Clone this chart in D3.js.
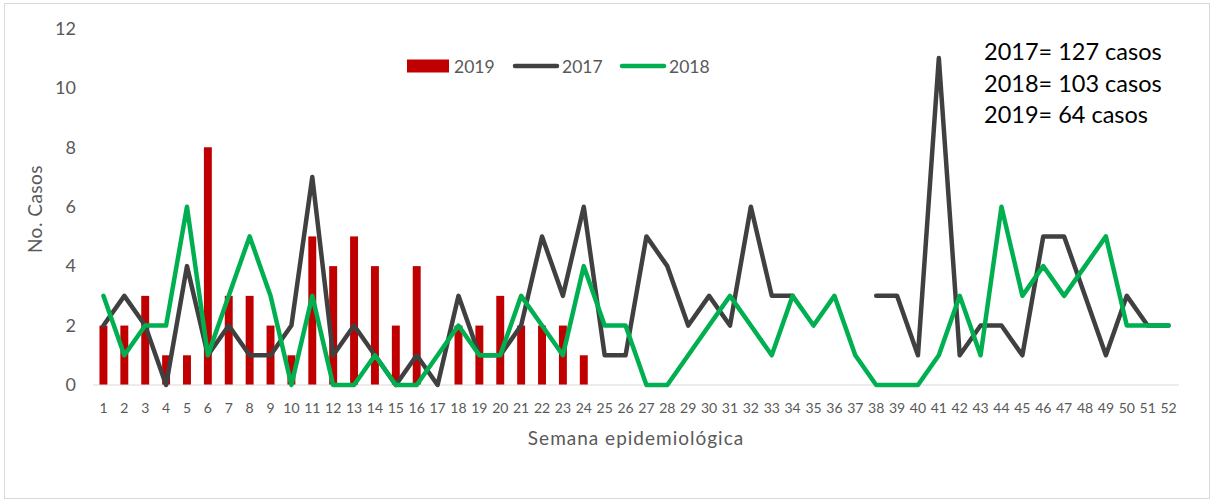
<!DOCTYPE html>
<html>
<head>
<meta charset="utf-8">
<script src="https://cdn.jsdelivr.net/npm/d3@7"></script>
<style>
  body { margin: 0; background: #fff; }
  text { font-family: Lato, "Open Sans", sans-serif; fill: #595959; }
</style>
</head>
<body>
<div id="viz"></div>
<script>
const weeks = d3.range(1, 53).map(String);

const cases2019 = [2, 2, 3, 1, 1, 8, 3, 3, 2, 1, 5, 4, 5, 4, 2, 4, 0, 2, 2, 3, 2, 2, 2, 1];

const cases2017 = [2, 3, 2, 0, 4, 1, 2, 1, 1, 2, 7, 1, 2, 1, 0, 1, 0, 3, 1, 1,
  2, 5, 3, 6, 1, 1, 5, 4, 2, 3, 2, 6, 3, 3, null, null, null, 3, 3, 1,
  11, 1, 2, 2, 1, 5, 5, 3, 1, 3, 2, 2];

const cases2018 = [3, 1, 2, 2, 6, 1, 3, 5, 3, 0, 3, 0, 0, 1, 0, 0, 1, 2, 1, 1,
  3, 2, 1, 4, 2, 2, 0, 0, 1, 2, 3, 2, 1, 3, 2, 3, 1, 0, 0, 0,
  1, 3, 1, 6, 3, 4, 3, 4, 5, 2, 2, 2];

const yTicks = [0, 2, 4, 6, 8, 10, 12];

const totals = ["2017= 127 casos", "2018= 103 casos", "2019= 64 casos"];

const legendItems = [
  { label: "2019", type: "bar", color: "#c00000" },
  { label: "2017", type: "line", color: "#404040" },
  { label: "2018", type: "line", color: "#00b050" }
];

const width = 1217, height = 503;

const svg = d3.select('#viz')
  .append('svg')
  .attr('width', width)
  .attr('height', height);

// chart border
svg.append('rect')
  .attr('x', 4.5)
  .attr('y', 3.5)
  .attr('width', 1205)
  .attr('height', 495)
  .attr('fill', 'none')
  .attr('stroke', '#d9d9d9');

const xScale = d3.scaleBand()
  .domain(weeks)
  .range([93, 1179]);

const xMid = w => xScale(w) + xScale.bandwidth() / 2;

const yScale = d3.scaleLinear()
  .domain([0, 12])
  .range([385, 28.4]);

// y tick labels
svg.selectAll('text.ytick')
  .data(yTicks)
  .enter()
  .append('text')
  .classed('ytick', true)
  .attr('x', 76)
  .attr('y', d => yScale(d))
  .attr('dy', '0.35em')
  .attr('text-anchor', 'end')
  .style('font-size', '18px')
  .text(d => d);

// bars 2019
const barW = xScale.bandwidth() * 0.38;
svg.selectAll('rect.bar')
  .data(cases2019)
  .enter()
  .append('rect')
  .classed('bar', true)
  .attr('x', (d, i) => xMid(weeks[i]) - barW / 2)
  .attr('y', d => yScale(d))
  .attr('width', barW)
  .attr('height', d => yScale(0) - yScale(d))
  .attr('fill', '#c00000');

// baseline
svg.append('line')
  .attr('x1', 93)
  .attr('x2', 1179)
  .attr('y1', yScale(0))
  .attr('y2', yScale(0))
  .attr('stroke', '#d9d9d9')
  .attr('stroke-width', 1.2);

// x tick labels
svg.selectAll('text.xtick')
  .data(weeks)
  .enter()
  .append('text')
  .classed('xtick', true)
  .attr('x', xMid)
  .attr('y', 413)
  .attr('text-anchor', 'middle')
  .style('font-size', '14px')
  .text(d => d);

const line = d3.line()
  .defined(d => d != null)
  .x((d, i) => xMid(weeks[i]))
  .y(d => yScale(d));

svg.append('path')
  .datum(cases2017)
  .attr('d', line)
  .attr('fill', 'none')
  .attr('stroke', '#404040')
  .attr('stroke-width', 4.5)
  .attr('stroke-linejoin', 'round')
  .attr('stroke-linecap', 'round');

svg.append('path')
  .datum(cases2018)
  .attr('d', line)
  .attr('fill', 'none')
  .attr('stroke', '#00b050')
  .attr('stroke-width', 4.5)
  .attr('stroke-linejoin', 'round')
  .attr('stroke-linecap', 'round');

// axis titles
svg.append('text')
  .attr('x', 636)
  .attr('y', 445)
  .attr('text-anchor', 'middle')
  .style('font-size', '19px')
  .style('letter-spacing', '1px')
  .text('Semana epidemiológica');

svg.append('text')
  .attr('transform', 'translate(42,209) rotate(-90)')
  .attr('text-anchor', 'middle')
  .style('font-size', '19px')
  .style('letter-spacing', '0.5px')
  .text('No. Casos');

// legend
const legendX = [407, 513, 620];
const lg = svg.selectAll('g.legend')
  .data(legendItems)
  .enter()
  .append('g')
  .classed('legend', true)
  .attr('transform', (d, i) => `translate(${legendX[i]},66)`);

lg.filter(d => d.type === 'bar')
  .append('rect')
  .attr('x', 0)
  .attr('y', -6.5)
  .attr('width', 42)
  .attr('height', 13)
  .attr('fill', d => d.color);

lg.filter(d => d.type === 'line')
  .append('line')
  .attr('x1', 2)
  .attr('x2', 44)
  .attr('stroke', d => d.color)
  .attr('stroke-width', 4.5)
  .attr('stroke-linecap', 'round');

lg.append('text')
  .attr('x', d => d.type === 'bar' ? 47 : 49)
  .attr('y', 7)
  .style('font-size', '17.5px')
  .text(d => d.label);

// totals note
svg.selectAll('text.total')
  .data(totals)
  .enter()
  .append('text')
  .classed('total', true)
  .attr('x', 984)
  .attr('y', (d, i) => 60 + i * 31.5)
  .style('font-size', '23.5px')
  .style('fill', '#000')
  .text(d => d);
</script>
</body>
</html>
